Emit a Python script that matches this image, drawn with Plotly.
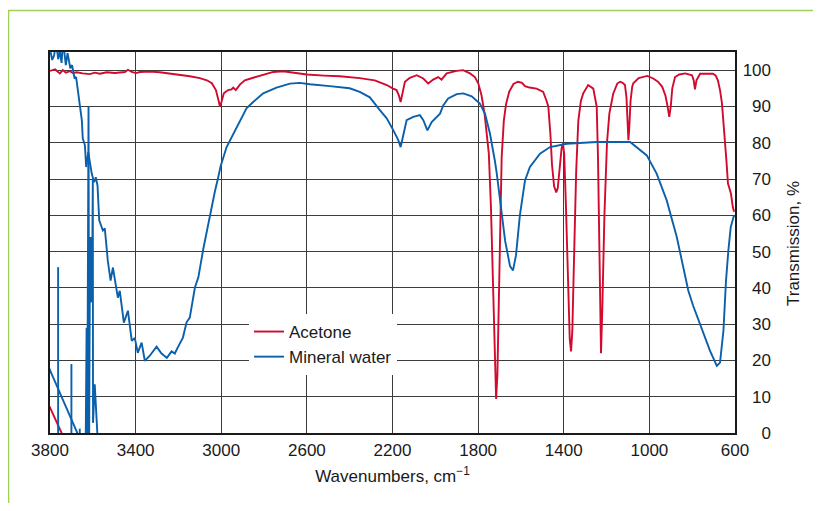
import plotly.graph_objects as go

# ---------------- data ----------------
acetone_wn = [3800, 3776, 3754, 3740, 3726, 3707, 3693, 3675, 3647, 3614, 3591, 3567, 3535, 3497,
              3450, 3436, 3418, 3399, 3380, 3334, 3287, 3240, 3194, 3147, 3100, 3067, 3044, 3025,
              3012, 3006, 2999, 2988, 2968, 2952, 2944, 2932, 2913, 2890, 2851, 2804, 2757, 2711,
              2664, 2600, 2520, 2446, 2353, 2283, 2259, 2227, 2197, 2181, 2170, 2162, 2152, 2142,
              2119, 2087, 2056, 2033, 2010, 1987, 1971, 1947, 1900, 1870, 1838, 1815, 1799, 1784,
              1770, 1760, 1750, 1740, 1730, 1722, 1716, 1710, 1703, 1697, 1690, 1680, 1670, 1655,
              1635, 1614, 1595, 1581, 1560, 1527, 1496, 1480, 1472, 1462, 1455, 1445, 1435, 1428,
              1420, 1410, 1404, 1398, 1390, 1380, 1372, 1366, 1360, 1352, 1342, 1332, 1320, 1309,
              1286, 1262, 1252, 1246, 1240, 1233, 1226, 1220, 1210, 1198, 1187, 1169, 1150, 1137,
              1125, 1114, 1107, 1102, 1098, 1094, 1088, 1080, 1075, 1050, 1010, 982, 960, 940,
              925, 915, 907, 900, 893, 880, 860, 833, 801, 793, 787, 780, 763, 703, 690, 680, 670,
              661, 654, 647, 640, 633, 619, 610, 604]
acetone_t = [99.8, 100.2, 99.1, 100.0, 99.3, 99.7, 99.2, 99.4, 99.1, 98.9, 99.3, 99.0, 99.4, 99.2,
             99.5, 100.1, 99.5, 99.2, 99.5, 99.6, 99.4, 99.1, 98.6, 98.3, 97.8, 97.2, 96.4, 94.5,
             91.5, 90.0, 91.2, 93.6, 94.5, 94.7, 95.2, 94.5, 96.0, 97.2, 97.9, 98.6, 99.5, 99.7,
             99.3, 98.8, 98.5, 98.3, 97.8, 97.2, 96.6, 95.9, 94.9, 94.5, 93.0, 91.2, 94.0, 96.8,
             97.9, 98.6, 97.7, 96.3, 97.4, 98.1, 97.4, 99.1, 99.8, 100.0, 99.1, 98.1, 96.3, 93.0,
             88.0, 83.0, 77.0, 62.0, 38.0, 18.0, 9.4, 16.0, 35.0, 58.0, 76.0, 86.0, 90.5, 94.0,
             96.2, 96.8, 96.5, 95.6, 95.2, 94.9, 94.0, 91.5, 89.9, 82.0, 74.0, 68.0, 66.3, 67.5,
             73.0, 78.5, 79.8, 77.0, 63.0, 40.0, 26.0, 22.5, 28.0, 48.0, 72.0, 86.0, 91.5, 93.6,
             95.9, 94.9, 92.0, 89.9, 76.0, 45.0, 22.0, 34.0, 60.0, 80.0, 88.0, 93.5, 96.3, 96.8,
             96.5, 95.9, 92.5, 86.0, 80.7, 84.0, 91.5, 95.5, 96.4, 97.8, 98.4, 97.7, 96.8, 95.4,
             93.0, 90.0, 87.1, 90.0, 95.0, 98.1, 98.8, 99.1, 98.6, 97.2, 94.7, 97.2, 99.0, 99.0,
             98.5, 97.2, 94.5, 90.9, 86.0, 80.7, 75.0, 68.8, 66.0, 62.2, 61.0]

water_wn = [3800, 3796, 3790, 3781, 3771, 3762, 3754, 3746, 3739, 3726, 3718, 3705, 3697, 3685,
            3678, 3666, 3658, 3651, 3647, 3637, 3631, 3621, 3615, 3605, 3594, 3586, 3578, 3570,
            3553, 3544, 3530, 3517, 3506, 3483, 3474, 3455, 3436, 3418, 3404, 3390, 3372, 3357,
            3334, 3302, 3279, 3254, 3232, 3217, 3203, 3179, 3162, 3147, 3123, 3107, 3084, 3053,
            3030, 3014, 3003, 2975, 2928, 2882, 2851, 2804, 2742, 2679, 2633, 2586, 2493, 2400,
            2353, 2306, 2259, 2227, 2196, 2173, 2162, 2149, 2134, 2103, 2072, 2056, 2037, 2017,
            1994, 1978, 1963, 1940, 1900, 1869, 1830, 1792, 1768, 1745, 1722, 1714, 1697, 1674,
            1651, 1637, 1623, 1605, 1581, 1558, 1511, 1464, 1386, 1246, 1090, 1059, 1012, 966,
            919, 872, 829, 818, 795, 763, 717, 685, 670, 654, 642, 631, 620, 607, 603]
water_t = [104.5, 104.7, 102.8, 104.0, 108.0, 103.0, 105.2, 102.0, 108.0, 101.4, 104.7, 100.5,
           101.4, 97.7, 98.1, 92.2, 89.5, 86.0, 81.2, 79.3, 73.3, 77.4, 75.1, 71.5, 69.1, 70.5,
           68.2, 58.6, 55.8, 56.4, 47.5, 42.0, 45.6, 37.3, 39.2, 30.4, 33.7, 25.4, 26.2, 22.1,
           24.9, 19.9, 21.3, 23.8, 21.9, 20.7, 22.5, 21.9, 23.6, 26.3, 30.5, 31.8, 40.1, 42.9,
           50.7, 60.4, 66.5, 70.5, 73.5, 78.8, 84.3, 89.5, 91.2, 93.6, 95.2, 96.3, 96.5, 96.1,
           95.6, 95.0, 94.0, 92.5, 89.0, 86.7, 83.4, 80.7, 78.8, 82.5, 86.2, 87.1, 87.6, 86.2,
           83.4, 85.7, 87.1, 88.0, 90.3, 92.2, 93.4, 93.6, 92.8, 90.8, 88.0, 82.6, 75.1, 72.0,
           64.0, 53.0, 46.0, 44.8, 49.0, 60.0, 69.6, 73.3, 77.0, 78.8, 79.7, 80.2, 80.2, 78.8,
           76.5, 71.5, 64.1, 54.0, 42.0, 39.2, 35.0, 30.1, 22.7, 18.5, 19.4, 28.2, 42.0, 50.3,
           56.7, 59.5, 60.0]

# detector-noise strokes in the strongly absorbing O-H region (None = pen up)
water_noise_wn = [3850, 3665, None, 3762, 3762, None, 3700, 3700, None, 3661, 3661, None,
                  3633, 3629, 3626, 3620, 3617, 3613, 3610, 3607, 3604, 3600, 3599, 3591, 3578]
water_noise_t = [24.1, -1, None, -1, 45.7, None, -1, 19.0, None, -1, 1.2, None,
                 -1, 29.0, -1, 89.9, -1, 54.0, 36.0, 54.0, 36.0, 70.0, 2.8, 13.4, -1]
acetone_noise_wn = [3850, 3738]
acetone_noise_t = [13.5, -1]

x_ticks = [3800, 3400, 3000, 2600, 2200, 1800, 1400, 1000, 600]
y_ticks = [0, 10, 20, 30, 40, 50, 60, 70, 80, 90, 100]

RED = "#d20a2e"
BLUE = "#0b60ab"

fig = go.Figure()
fig.add_trace(go.Scatter(x=acetone_wn, y=acetone_t, mode="lines", name="Acetone",
                         line=dict(color=RED, width=1.9)))
fig.add_trace(go.Scatter(x=water_wn, y=water_t, mode="lines", name="Mineral water",
                         line=dict(color=BLUE, width=1.9)))
fig.add_trace(go.Scatter(x=acetone_noise_wn, y=acetone_noise_t, mode="lines", showlegend=False,
                         line=dict(color=RED, width=1.9), hoverinfo="skip"))
fig.add_trace(go.Scatter(x=water_noise_wn, y=water_noise_t, mode="lines", showlegend=False,
                         line=dict(color=BLUE, width=1.9), hoverinfo="skip", connectgaps=False))
# carrier for the right-aligned tick-label axis
fig.add_trace(go.Scatter(x=[None], y=[None], yaxis="y2", showlegend=False, hoverinfo="skip"))

# page body has an 8px margin -> figure is drawn at (8, 8) in the window
OFF = 8
W, H = 821 - 2 * OFF, 511 - 2 * OFF
PLOT_L, PLOT_R, PLOT_T, PLOT_B = 50, 735, 52, 433          # screen px of the plot box
ML, MT = PLOT_L - OFF, PLOT_T - OFF
MB = H - (PLOT_B - OFF)
MR = 32
PW = W - ML - MR
PH = H - MT - MB


def px_x(sx):
    return (sx - OFF - ML) / PW


def px_y(sy):
    return (H - MB - (sy - OFF)) / PH


GRID = "#3c3c3c"
fig.update_layout(
    width=W, height=H,
    margin=dict(l=ML, r=MR, t=MT, b=MB),
    paper_bgcolor="white", plot_bgcolor="white",
    font=dict(family="Liberation Sans, Arial, Helvetica, sans-serif", size=17, color="#1a1a1a"),
    xaxis=dict(
        domain=[0, px_x(PLOT_R)],
        range=[3800, 600], autorange=False,
        tickvals=x_ticks, ticks="", ticklabelstandoff=1,
        showgrid=True, gridcolor=GRID, gridwidth=1,
        showline=True, linecolor="#1a1a1a", linewidth=2, mirror=True,
        zeroline=False, automargin=False,
        title=dict(text="Wavenumbers, cm<sup>\u22121</sup>", font=dict(size=17), standoff=11),
    ),
    yaxis=dict(
        side="right", range=[0, 105], autorange=False,
        tickvals=y_ticks, showticklabels=False, ticks="",
        showgrid=True, gridcolor=GRID, gridwidth=1,
        showline=True, linecolor="#1a1a1a", linewidth=2, mirror=True,
        zeroline=False, automargin=False,
    ),
    yaxis2=dict(
        overlaying="y", anchor="free", position=px_x(771), side="left",
        range=[0, 105], autorange=False, tickvals=y_ticks, ticks="",
        showgrid=False, showline=False, zeroline=False, automargin=False,
    ),
    legend=dict(x=px_x(249), y=px_y(314), xanchor="left", yanchor="top",
                bgcolor="white", borderwidth=0, font=dict(size=17),
                tracegroupgap=0),
    annotations=[dict(text="Transmission, %", textangle=-90, showarrow=False,
                      xref="paper", yref="paper", x=px_x(793), y=px_y(244),
                      xanchor="center", yanchor="middle", font=dict(size=17))],
    shapes=[dict(type="path", xref="paper", yref="paper",
                 path=f"M {px_x(8.5)} {px_y(530)} L {px_x(8.5)} {px_y(10.5)} L {px_x(840)} {px_y(10.5)}",
                 line=dict(color="#9fd05a", width=1.6))],
)

fig.write_html("out.html")
